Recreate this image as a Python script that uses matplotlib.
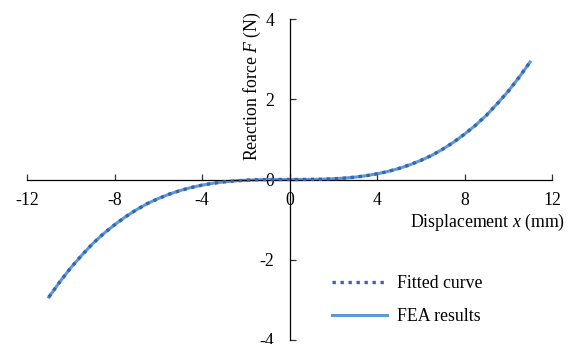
import numpy as np
import matplotlib.pyplot as plt

plt.rcParams['font.family'] = ['Liberation Serif', 'DejaVu Serif']
plt.rcParams['mathtext.fontset'] = 'custom'
plt.rcParams['mathtext.rm'] = 'Liberation Serif'
plt.rcParams['mathtext.it'] = 'Liberation Serif:italic'
plt.rcParams['axes.unicode_minus'] = False

# displacement (mm) and reaction force (N)
disp = [-11, -10.5, -10, -9.5, -9, -8.5, -8, -7.5, -7, -6.5, -6, -5.5, -5, -4.5, -4,
        -3.5, -3, -2.5, -2, -1.5, -1, -0.5, 0, 0.5, 1, 1.5, 2, 2.5, 3, 3.5, 4,
        4.5, 5, 5.5, 6, 6.5, 7, 7.5, 8, 8.5, 9, 9.5, 10, 10.5, 11]
force_fea = [-2.93, -2.55, -2.20, -1.89, -1.60, -1.35, -1.13, -0.93, -0.755, -0.60, -0.475,
             -0.366, -0.275, -0.200, -0.141, -0.094, -0.059, -0.034, -0.018, -0.007, -0.002,
             -0.0003, 0.0, 0.0003, 0.002, 0.007, 0.018, 0.034, 0.059, 0.094, 0.141,
             0.200, 0.275, 0.366, 0.475, 0.60, 0.755, 0.93, 1.13, 1.35, 1.60,
             1.89, 2.20, 2.55, 2.93]
force_fit = force_fea

fs = 12.8

fig = plt.figure(figsize=(5.82, 3.44), dpi=100)
ax = fig.add_axes([27 / 582, 4 / 344, 525 / 582, 321 / 344])

ax.plot(disp, force_fea, color='#5b9bd5', lw=2.2, label='FEA results', zorder=2)
ax.plot(disp, force_fit, color='#3a62b4', lw=2.4, ls=(0, (1, 1.4)), label='Fitted curve', zorder=3)

ax.set_xlim(-12, 12)
ax.set_ylim(-4, 4)
ax.set_xticks([-12, -8, -4, 0, 4, 8, 12])
ax.set_yticks([-4, -2, 0, 2, 4])

ax.spines['left'].set_position(('data', 0))
ax.spines['bottom'].set_position(('data', 0))
ax.spines['top'].set_visible(False)
ax.spines['right'].set_visible(False)
for s in ['left', 'bottom']:
    ax.spines[s].set_linewidth(0.9)
ax.tick_params(direction='in', length=4, width=0.9, labelsize=fs, color='#333333')
ax.tick_params(axis='x', pad=9)
ax.tick_params(axis='y', pad=11)

ax.text(-1.7, 4.2, 'Reaction force $\\it{F}$ (N)', rotation=90, ha='center', va='top', fontsize=fs)
ax.text(12.6, -1.07, 'Displacement $\\it{x}$ (mm)', ha='right', va='center', fontsize=fs)

h, l = ax.get_legend_handles_labels()
leg = ax.legend(h[::-1], l[::-1], loc='upper left', bbox_to_anchor=(332 / 582, 1 - 275 / 344),
                bbox_transform=fig.transFigure, frameon=False, fontsize=fs, borderpad=0,
                borderaxespad=0, handlelength=3.1, handletextpad=0.55, labelspacing=0.92)

fig.savefig('out.png', dpi=100)
